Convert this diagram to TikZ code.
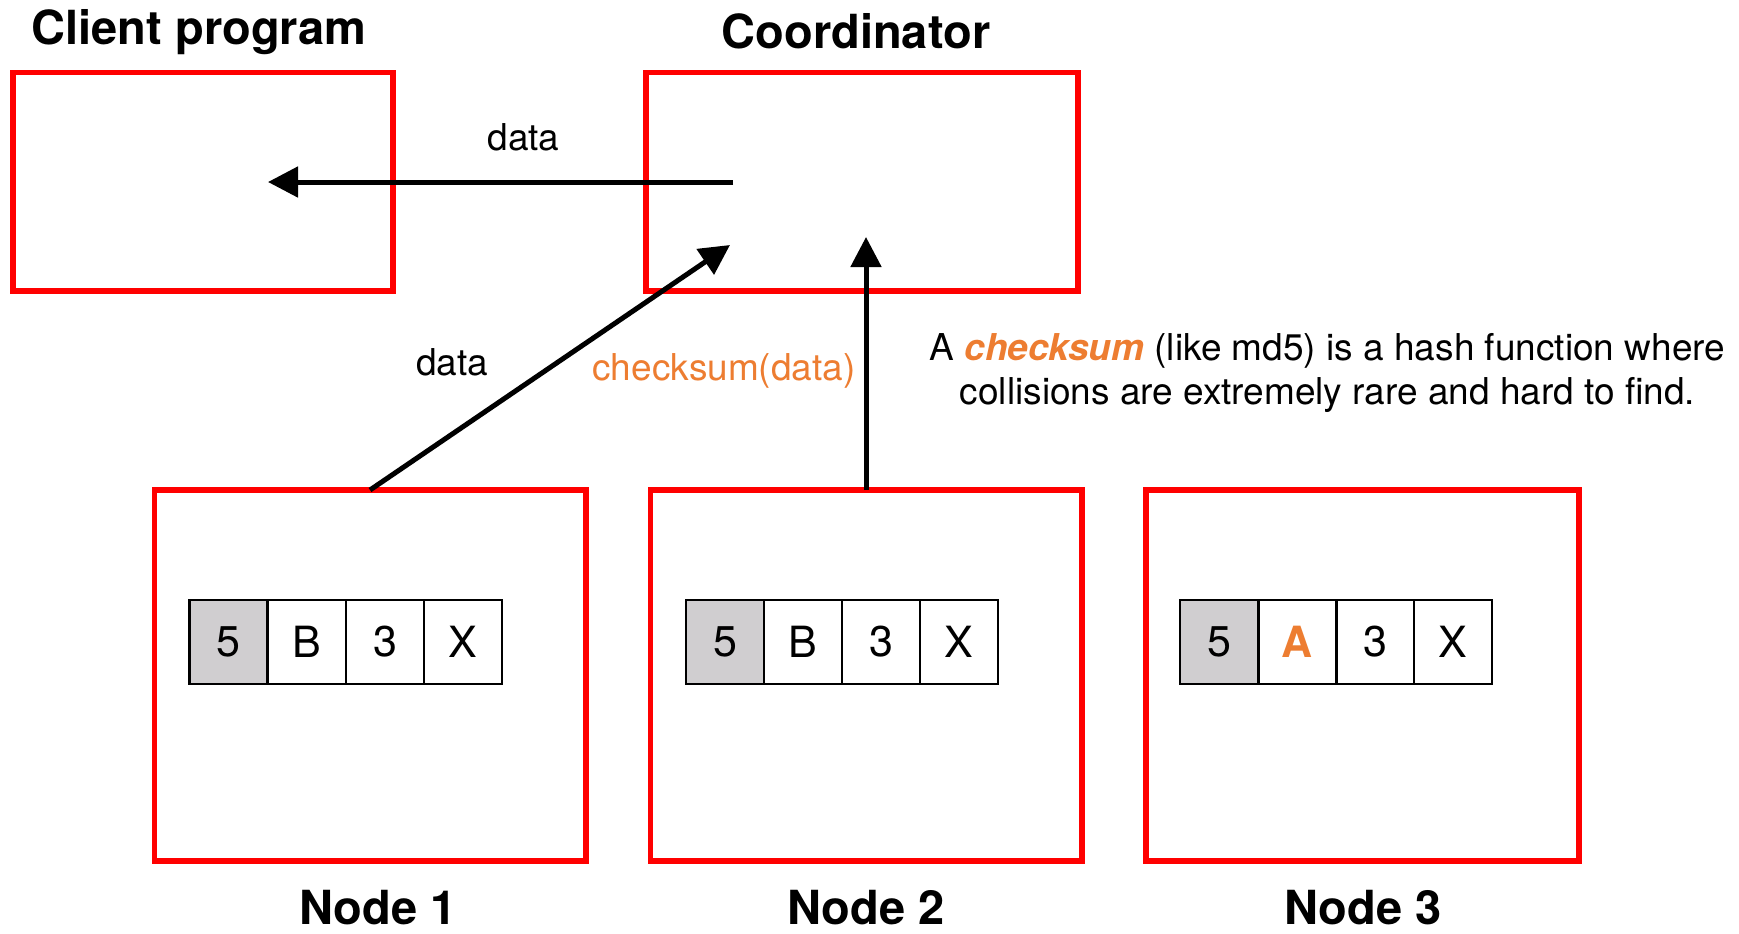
\documentclass[tikz,border=0pt]{standalone}
\usepackage{fontspec}
\setmainfont{TeX Gyre Heros}
\usetikzlibrary{arrows.meta}
\definecolor{boxred}{RGB}{255,0,0}
\definecolor{accent}{RGB}{237,125,49}
\definecolor{cellgray}{RGB}{208,206,208}
\tikzset{
  redbox/.style={draw=boxred, line width=2.75pt, inner sep=0pt, outer sep=0pt},
  cellbox/.style={draw=black, line width=1.2pt, fill=white, inner sep=0pt, outer sep=0pt,
    minimum width=39pt, minimum height=42pt, font=\fontsize{21.5}{24}\selectfont},
  titletext/.style={anchor=base, font=\fontsize{23.5}{27}\selectfont\bfseries, inner sep=0pt},
  labeltext/.style={anchor=base, font=\fontsize{18.5}{22}\selectfont, inner sep=0pt},
  flow/.style={line width=2.5pt, -{Triangle[length=15pt,width=15pt]}}
}
\begin{document}
\begin{tikzpicture}[x=0.5pt,y=-0.5pt]
\useasboundingbox[fill=white] (0,0) rectangle (1739,933);

% main boxes
\node[redbox, minimum width=190pt, minimum height=109.25pt] (client) at (203,181.75) {};
\node[redbox, minimum width=216pt, minimum height=109.25pt] (coord) at (862,181.75) {};
\node[redbox, minimum width=215.75pt, minimum height=185.5pt] (node1) at (370,675.5) {};
\node[redbox, minimum width=215.75pt, minimum height=185.5pt] (node2) at (866,675.5) {};
\node[redbox, minimum width=216.5pt, minimum height=185.5pt] (node3) at (1362.5,675.5) {};

% titles
\node[titletext] (tclient) at (199,44) {Client program};
\node[titletext] (tcoord) at (856,48) {Coordinator};
\node[titletext] (tnode1) at (378,924) {Node 1};
\node[titletext] (tnode2) at (866,924) {Node 2};
\node[titletext] (tnode3) at (1363,924) {Node 3};

% cells node 1
\node[cellbox, fill=cellgray] (a1) at (228.5,642) {5};
\node[cellbox] (a2) at (307,642) {B};
\node[cellbox] (a3) at (385,642) {3};
\node[cellbox] (a4) at (463,642) {X};
% cells node 2
\node[cellbox, fill=cellgray] (b1) at (725,642) {5};
\node[cellbox] (b2) at (803,642) {B};
\node[cellbox] (b3) at (881,642) {3};
\node[cellbox] (b4) at (959,642) {X};
% cells node 3
\node[cellbox, fill=cellgray] (c1) at (1219,642) {5};
\node[cellbox, text=accent, font=\fontsize{21.5}{24}\selectfont\bfseries] (c2) at (1297.5,642) {A};
\node[cellbox] (c3) at (1375.5,642) {3};
\node[cellbox] (c4) at (1453,642) {X};

% connector end points
\coordinate (coordOut) at (733,182);
\coordinate (clientIn) at (268,182);
\coordinate (coordInA) at (730,245);
\coordinate (coordInB) at (866,237);

\draw[flow] (coordOut) -- (clientIn);
\draw[flow] (node1.north) -- (coordInA);
\draw[flow] (node2.north) -- (coordInB);

% labels
\node[labeltext] (ldata1) at (523.5,150) {data};
\node[labeltext] (ldata2) at (452,375) {data};
\node[labeltext, text=accent] (lcheck) at (724,380) {checksum(data)};

\node[labeltext] (note1) at (1327.5,360) {A \textcolor{accent}{\bfseries\itshape checksum} (like md5) is a hash function where};
\node[labeltext] (note2) at (1327.5,404) {collisions are extremely rare and hard to find.};
\end{tikzpicture}
\end{document}
